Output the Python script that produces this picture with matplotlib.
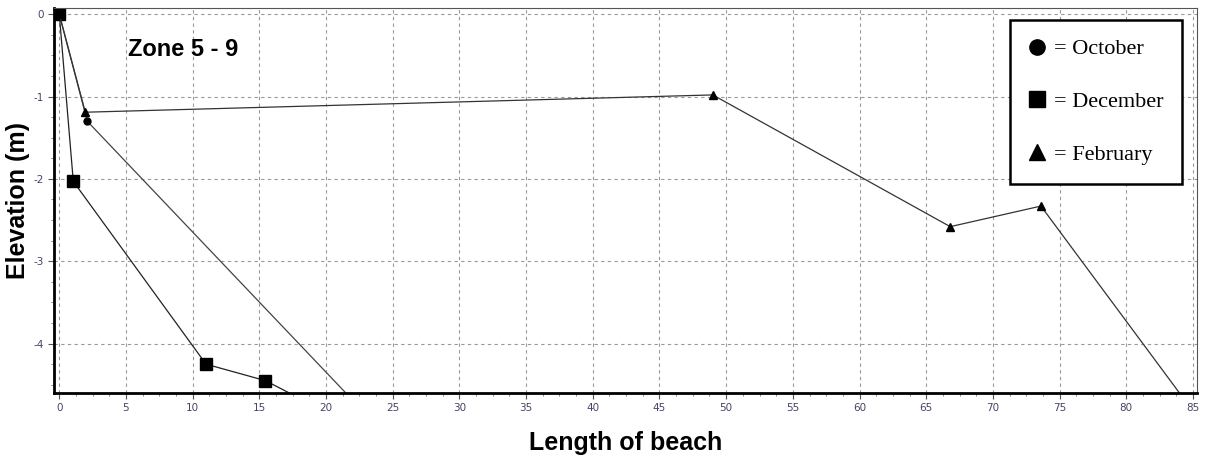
import matplotlib
matplotlib.use("Agg")
import matplotlib.pyplot as plt
from matplotlib.lines import Line2D
from matplotlib.ticker import MultipleLocator

plt.rcParams["axes.unicode_minus"] = False

# values (last point of each series lies beyond the axes)
oct_x = [0, 2.1, 30]
oct_y = [0, -1.3, -6.05]
dec_x = [0, 1.05, 11.0, 15.45, 20]
dec_y = [0, -2.03, -4.25, -4.45, -4.83]
feb_x = [0, 1.95, 49.0, 66.8, 73.6, 86]
feb_y = [0, -1.19, -0.98, -2.58, -2.33, -5.04]

months = ["October", "December", "February"]
markers = ["o", "s", "^"]

fig = plt.figure(figsize=(12.07, 4.66), dpi=100)
ax = fig.add_axes([0.0447, 0.1567, 0.947, 0.826])

ax.plot(oct_x, oct_y, color="#444444", lw=0.9, marker="o", ms=5,
        mfc="black", mec="black")
ax.plot(dec_x, dec_y, color="#222222", lw=0.9, marker="s", ms=8,
        mfc="black", mec="black")
ax.plot(feb_x, feb_y, color="#333333", lw=0.9, marker="^", ms=6,
        mfc="black", mec="black")

ax.set_xlim(-0.4, 85.3)
ax.set_ylim(-4.6, 0.075)
ax.xaxis.set_major_locator(MultipleLocator(5))
ax.xaxis.set_minor_locator(MultipleLocator(1.25))
ax.yaxis.set_major_locator(MultipleLocator(1))
ax.yaxis.set_minor_locator(MultipleLocator(0.25))
ax.tick_params(which="major", labelsize=7.5, labelcolor="#444466", length=4,
               color="#555555")
ax.tick_params(which="minor", length=2, color="#777777")
ax.grid(True, which="major", ls=(0, (3, 3)), color="#999999", lw=0.8)

for side in ["left", "bottom"]:
    ax.spines[side].set_linewidth(2)
    ax.spines[side].set_color("black")
for side in ["top", "right"]:
    ax.spines[side].set_linewidth(0.8)
    ax.spines[side].set_color("#555555")

ax.set_xlabel("Length of beach", fontsize=18, fontweight="bold",
              family="Liberation Sans", labelpad=13)
ax.set_ylabel("Elevation (m)", fontsize=18, fontweight="bold",
              family="Liberation Sans", labelpad=2)

ax.text(0.065, 0.875, "Zone 5 - 9", transform=ax.transAxes, fontsize=17,
        fontweight="bold", family="Liberation Sans")

handles = [Line2D([], [], ls="none", marker=m, color="black", ms=11)
           for m in markers]
leg = ax.legend(handles, ["= " + m for m in months], loc="upper right",
                bbox_to_anchor=(0.987, 0.969), frameon=True, fancybox=False,
                prop={"family": "Liberation Serif", "size": 16},
                labelspacing=1.45, handlelength=0.7, handletextpad=0.4,
                borderpad=0.85, borderaxespad=0)
leg.get_frame().set_edgecolor("black")
leg.get_frame().set_linewidth(1.8)
leg.get_frame().set_alpha(1)

fig.savefig("out.png", dpi=100)
